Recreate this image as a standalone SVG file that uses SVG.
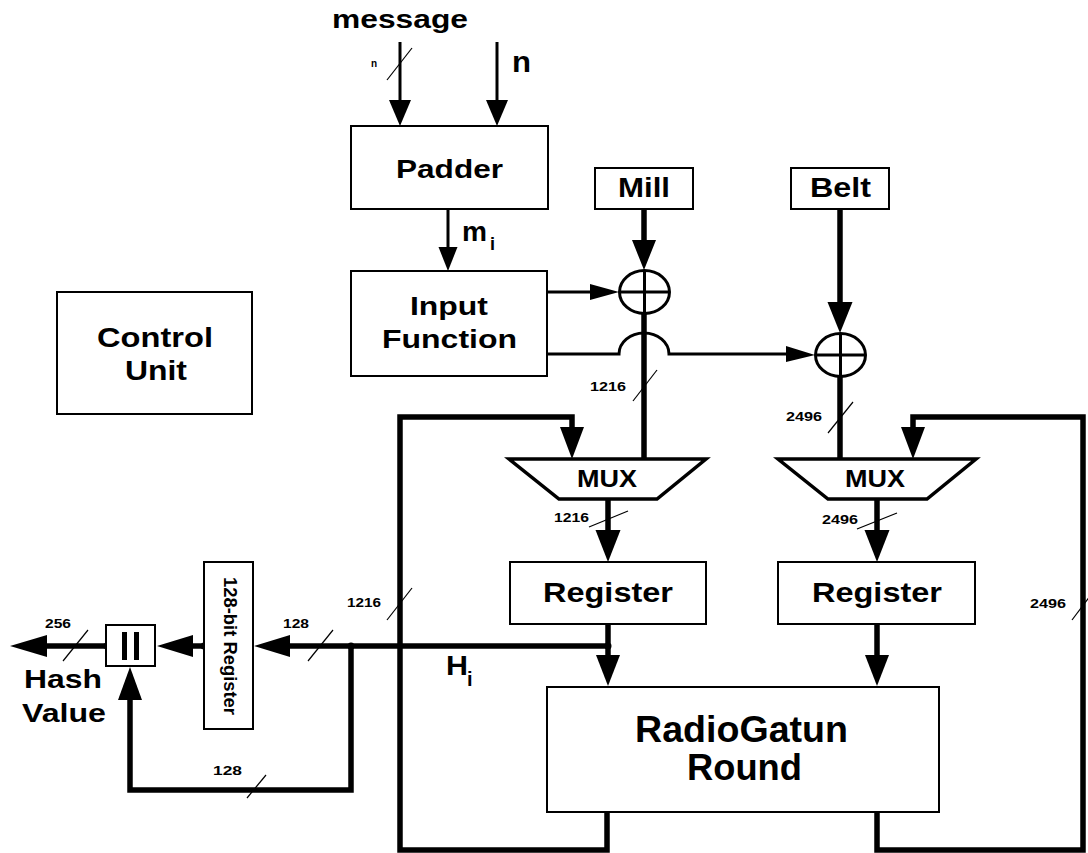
<svg xmlns="http://www.w3.org/2000/svg" width="1088" height="853" viewBox="0 0 1088 853">
<style>
.box{fill:#fff;stroke:#000;stroke-width:2}
.t{font-family:"Liberation Sans",Arial,sans-serif;font-weight:bold;fill:#000}
.thick{fill:none;stroke:#000;stroke-width:5.5;stroke-linejoin:miter}
.med{fill:none;stroke:#000;stroke-width:3}
.thin{fill:none;stroke:#000;stroke-width:1.2}
.ah{fill:#000;stroke:none}
.lbl{font-family:"Liberation Sans",Arial,sans-serif;font-weight:bold;font-size:13px;fill:#000}
</style>
<rect width="1088" height="853" fill="#fff"/>
<g id="connectors">
  <line class="med" x1="400" y1="42" x2="400" y2="102"/>
  <polygon class="ah" points="389,100 411,100 400,126"/>
  <line class="med" x1="497" y1="42" x2="497" y2="102"/>
  <polygon class="ah" points="486,100 508,100 497,126"/>
  <line class="thin" x1="387" y1="80" x2="412" y2="48"/>
  <line class="med" x1="448" y1="209" x2="448" y2="249"/>
  <polygon class="ah" points="438.5,247 457.5,247 448,271"/>
  <line class="thick" x1="644" y1="209" x2="644" y2="242"/>
  <polygon class="ah" points="632,240 656,240 644,270"/>
  <line class="thick" x1="644" y1="314" x2="644" y2="461"/>
  <line class="thin" x1="633" y1="401" x2="657" y2="370"/>
  <line class="med" x1="547" y1="292" x2="592" y2="292"/>
  <polygon class="ah" points="590,284 590,300 619,292"/>
  <path class="med" d="M547,354 L619,354 A25,21 0 0 1 669,354 L788,354"/>
  <polygon class="ah" points="786,346 786,362 815,355"/>
  <line class="thick" x1="840" y1="209" x2="840" y2="304"/>
  <polygon class="ah" points="827.5,302 852.5,302 840,333"/>
  <line class="thick" x1="840" y1="377" x2="840" y2="461"/>
  <line class="thin" x1="828" y1="433" x2="853" y2="402"/>
  <path class="thick" d="M607,812 L607,850 L400,850 L400,417 L572,417 L572,429"/>
  <polygon class="ah" points="560,427 584,427 572,459"/>
  <line class="thin" x1="387" y1="620" x2="412" y2="588"/>
  <path class="thick" d="M877,812 L877,850 L1083,850 L1083,417 L913,417 L913,429"/>
  <polygon class="ah" points="901,427 925,427 913,459"/>
  <line class="thin" x1="1072" y1="620" x2="1096" y2="588"/>
  <line class="thick" x1="608" y1="499" x2="608" y2="532"/>
  <polygon class="ah" points="595.5,530 620.5,530 608,562"/>
  <line class="thin" x1="589" y1="527" x2="628" y2="511"/>
  <line class="thick" x1="877" y1="499" x2="877" y2="532"/>
  <polygon class="ah" points="864.5,530 889.5,530 877,562"/>
  <line class="thin" x1="857" y1="529" x2="897" y2="513"/>
  <line class="thick" x1="608" y1="624" x2="608" y2="657"/>
  <polygon class="ah" points="596,655 620,655 608,686"/>
  <line class="thick" x1="877" y1="624" x2="877" y2="657"/>
  <polygon class="ah" points="865,655 889,655 877,686"/>
  <line class="thick" x1="608" y1="646" x2="288" y2="646"/>
  <circle cx="608" cy="646" r="3.5"/>
  <circle cx="351" cy="646" r="3.5"/>
  <polygon class="ah" points="290,635 290,657 254,646"/>
  <line class="thin" x1="308" y1="661" x2="333" y2="630"/>
  <path class="thick" d="M351,646 L351,790 L130,790 L130,698"/>
  <polygon class="ah" points="118,700 142,700 130,667"/>
  <line class="thin" x1="247" y1="798" x2="266" y2="775"/>
  <line class="thick" x1="204" y1="646" x2="191" y2="646"/>
  <circle cx="204" cy="646" r="3.5"/>
  <polygon class="ah" points="193,635 193,657 157,646"/>
  <line class="thick" x1="106" y1="646" x2="45" y2="646"/>
  <circle cx="106" cy="646" r="3"/>
  <polygon class="ah" points="47,635 47,657 10,646"/>
  <line class="thin" x1="63" y1="661" x2="88" y2="630"/>
</g>
<g id="labels">
  <text class="t" x="332" y="28" font-size="26" textLength="136" lengthAdjust="spacingAndGlyphs">message</text>
  <text class="t" x="371" y="67" font-size="10">n</text>
  <text class="t" x="512" y="72" font-size="30" textLength="19" lengthAdjust="spacingAndGlyphs">n</text>
  <text class="t" x="462" y="241" font-size="27" textLength="25" lengthAdjust="spacingAndGlyphs">m</text>
  <text class="t" x="490" y="250" font-size="18">i</text>
  <text class="lbl" x="590" y="391" textLength="36" lengthAdjust="spacingAndGlyphs">1216</text>
  <text class="lbl" x="786" y="421" textLength="36" lengthAdjust="spacingAndGlyphs">2496</text>
  <text class="lbl" x="554" y="522" textLength="35" lengthAdjust="spacingAndGlyphs">1216</text>
  <text class="lbl" x="822" y="524" textLength="36" lengthAdjust="spacingAndGlyphs">2496</text>
  <text class="lbl" x="347" y="607" textLength="34" lengthAdjust="spacingAndGlyphs">1216</text>
  <text class="lbl" x="1030" y="608" textLength="36" lengthAdjust="spacingAndGlyphs">2496</text>
  <text class="lbl" x="283" y="628" textLength="26" lengthAdjust="spacingAndGlyphs">128</text>
  <text class="lbl" x="45" y="628" textLength="26" lengthAdjust="spacingAndGlyphs">256</text>
  <text class="lbl" x="213" y="775" textLength="29" lengthAdjust="spacingAndGlyphs">128</text>
  <text class="t" x="446" y="675" font-size="28" textLength="22" lengthAdjust="spacingAndGlyphs">H</text>
  <text class="t" x="467" y="686" font-size="20">i</text>
  <text class="t" x="24" y="688" font-size="26" textLength="78" lengthAdjust="spacingAndGlyphs">Hash</text>
  <text class="t" x="22" y="722" font-size="26" textLength="84" lengthAdjust="spacingAndGlyphs">Value</text>
</g>
<g id="padder">
  <rect class="box" x="351" y="126" width="197" height="83"/>
  <text class="t" x="396" y="178" font-size="26" textLength="107" lengthAdjust="spacingAndGlyphs">Padder</text>
</g>
<g id="input-function">
  <rect class="box" x="351" y="271" width="196" height="105"/>
  <text class="t" x="410" y="315" font-size="25" textLength="78" lengthAdjust="spacingAndGlyphs">Input</text>
  <text class="t" x="382" y="348" font-size="25" textLength="135" lengthAdjust="spacingAndGlyphs">Function</text>
</g>
<g id="control-unit">
  <rect class="box" x="57" y="292" width="195" height="122"/>
  <text class="t" x="97" y="347" font-size="28" textLength="116" lengthAdjust="spacingAndGlyphs">Control</text>
  <text class="t" x="125" y="380" font-size="28" textLength="62" lengthAdjust="spacingAndGlyphs">Unit</text>
</g>
<g id="mill">
  <rect class="box" x="595" y="168" width="98" height="41"/>
  <text class="t" x="618" y="197" font-size="28" textLength="52" lengthAdjust="spacingAndGlyphs">Mill</text>
</g>
<g id="belt">
  <rect class="box" x="791" y="168" width="98" height="41"/>
  <text class="t" x="810" y="197" font-size="28" textLength="61" lengthAdjust="spacingAndGlyphs">Belt</text>
</g>
<g id="xor-mill">
  <ellipse cx="644.5" cy="292" rx="25" ry="21.5" fill="none" stroke="#000" stroke-width="3"/>
  <line class="med" x1="619.5" y1="292" x2="669.5" y2="292"/>
  <line class="med" x1="644.5" y1="270.5" x2="644.5" y2="313.5"/>
</g>
<g id="xor-belt">
  <ellipse cx="840.5" cy="355" rx="25" ry="21.5" fill="none" stroke="#000" stroke-width="3"/>
  <line class="med" x1="815.5" y1="355" x2="865.5" y2="355"/>
  <line class="med" x1="840.5" y1="333.5" x2="840.5" y2="376.5"/>
</g>
<g id="mux-left">
  <polygon points="509,459 706,459 657,499 559,499" fill="#fff" stroke="#000" stroke-width="3.5" stroke-linejoin="miter"/>
  <text class="t" x="577" y="487" font-size="24" textLength="60" lengthAdjust="spacingAndGlyphs">MUX</text>
</g>
<g id="mux-right">
  <polygon points="778,459 976,459 927,499 828,499" fill="#fff" stroke="#000" stroke-width="3.5" stroke-linejoin="miter"/>
  <text class="t" x="845" y="487" font-size="24" textLength="60" lengthAdjust="spacingAndGlyphs">MUX</text>
</g>
<g id="register-left">
  <rect class="box" x="510" y="562" width="196" height="62"/>
  <text class="t" x="543" y="602" font-size="28" textLength="130" lengthAdjust="spacingAndGlyphs">Register</text>
</g>
<g id="register-right">
  <rect class="box" x="778" y="562" width="197" height="62"/>
  <text class="t" x="812" y="602" font-size="28" textLength="130" lengthAdjust="spacingAndGlyphs">Register</text>
</g>
<g id="radiogatun-round">
  <rect class="box" x="547" y="687" width="392" height="125"/>
  <text class="t" x="635" y="742" font-size="37" textLength="213" lengthAdjust="spacingAndGlyphs">RadioGatun</text>
  <text class="t" x="687" y="780" font-size="37" textLength="115" lengthAdjust="spacingAndGlyphs">Round</text>
</g>
<g id="reg128">
  <rect class="box" x="204" y="562" width="49" height="167"/>
  <text class="t" x="0" y="0" font-size="18" transform="translate(224,577) rotate(90)" textLength="138" lengthAdjust="spacingAndGlyphs">128-bit Register</text>
</g>
<g id="concat">
  <rect class="box" x="106" y="625" width="49" height="41"/>
  <rect x="122" y="632" width="5" height="28" fill="#000"/>
  <rect x="134" y="632" width="5" height="28" fill="#000"/>
</g>
</svg>
